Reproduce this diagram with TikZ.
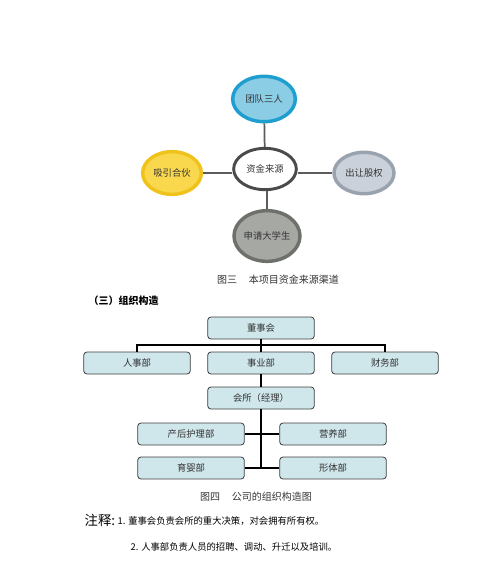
\documentclass[tikz,border=0pt]{standalone}
\usepackage{fontspec}
\setmainfont{Noto Sans CJK SC}
\usepackage{tikz}
\usetikzlibrary{positioning,calc,shapes.geometric}
\definecolor{teamblue}{HTML}{8CCDE6}
\definecolor{teamedge}{HTML}{1F9FCF}
\definecolor{joinyel}{HTML}{FAD84E}
\definecolor{joinedge}{HTML}{F0C21C}
\definecolor{sharegray}{HTML}{CBD1DA}
\definecolor{shareedge}{HTML}{99A2AF}
\definecolor{stugray}{HTML}{A6A8A4}
\definecolor{stuedge}{HTML}{6E706C}
\definecolor{hubedge}{HTML}{4A4A4A}
\definecolor{deptfill}{HTML}{CFE6EB}
\definecolor{deptedge}{HTML}{3F3F3F}
\definecolor{inkgray}{HTML}{333333}
\tikzset{
  src/.style={ellipse, minimum width=47pt, minimum height=34pt, inner sep=0pt,
    line width=2.6pt, font=\fontsize{7}{8}\selectfont, text=inkgray},
  hub/.style={src, draw=hubedge, fill=white, minimum height=31pt, line width=2.2pt},
  spoke/.style={line width=1.3pt, color=hubedge!90},
  % an org chart box
  dept/.style={draw=deptedge, fill=deptfill, rounded corners=2.5pt,
    minimum width=80pt, minimum height=16.5pt, inner sep=0pt, line width=0.6pt,
    font=\fontsize{7}{8}\selectfont, text=inkgray},
  link/.style={line width=1.4pt, color=black},
  figcap/.style={font=\fontsize{7.5}{9}\selectfont, text=inkgray},
  notetxt/.style={font=\fontsize{7}{8}\selectfont, anchor=west, text=black},
}
\begin{document}
\begin{tikzpicture}[x=0.75pt, y=-0.75pt]
  \useasboundingbox (0,0) rectangle (500,565);
  % sources of funds
  \node[hub] (fund) at (265,169) {资金来源};
  \node[src, draw=teamedge, fill=teamblue] (team) at (264,99) {团队三人};
  \node[src, draw=joinedge, fill=joinyel, minimum width=44pt, minimum height=32pt] (join) at (172,173) {吸引合伙};
  \node[src, draw=shareedge, fill=sharegray, minimum width=45pt, minimum height=31pt] (share) at (364,173) {出让股权};
  \node[src, draw=stuedge, fill=stugray, minimum height=38pt] (stud) at (267,236) {申请大学生};
  \draw[spoke] (team) -- (fund);
  \draw[spoke] (join.east) -- (join.east -| fund.west);
  \draw[spoke] (share.west -| fund.east) -- (share.west);
  \draw[spoke] (fund.south -| stud.north) -- (stud.north);
  \node[figcap] (capA) at (278,280) {图三\hspace{1.2em}本项目资金来源渠道};
  \node[font=\fontsize{7.5}{9}\selectfont\bfseries, anchor=west] (sect) at (84,301) {（三）组织构造};
  % org chart
  \node[dept] (board) at (261,328) {董事会};
  \node[dept] (hr) at (137,363) {人事部};
  \node[dept] (biz) at (261,363) {事业部};
  \node[dept] (fin) at (385,363) {财务部};
  \node[dept] (club) at (261,398) {会所（经理）};
  \node[dept] (care) at (191,434) {产后护理部};
  \node[dept] (nutri) at (333,434) {营养部};
  \node[dept] (baby) at (191,468) {育婴部};
  \node[dept] (body) at (333,468) {形体部};
  \coordinate (bus) at (261,345);
  \draw[link] (hr.north) |- (bus) -| (fin.north);
  \draw[link] (board.south) -- (biz.north);
  \draw[link] (biz.south) -- (club.north);
  \draw[link] (club.south) -- (club.south |- body.west);
  \draw[link] (care.east) -- (nutri.west);
  \draw[link] (baby.east) -- (body.west);
  \node[figcap] (capB) at (256,497) {图四\hspace{1.2em}公司的组织构造图};
  % notes
  \node[font=\fontsize{10}{11}\selectfont, anchor=west] (notehead) at (80,520) {注释:};
  \node[notetxt] (noteA) at (113,521) {1. 董事会负责会所的重大决策，对会拥有所有权。};
  \node[notetxt] (noteB) at (126,547) {2. 人事部负责人员的招聘、调动、升迁以及培训。};
\end{tikzpicture}
\end{document}
